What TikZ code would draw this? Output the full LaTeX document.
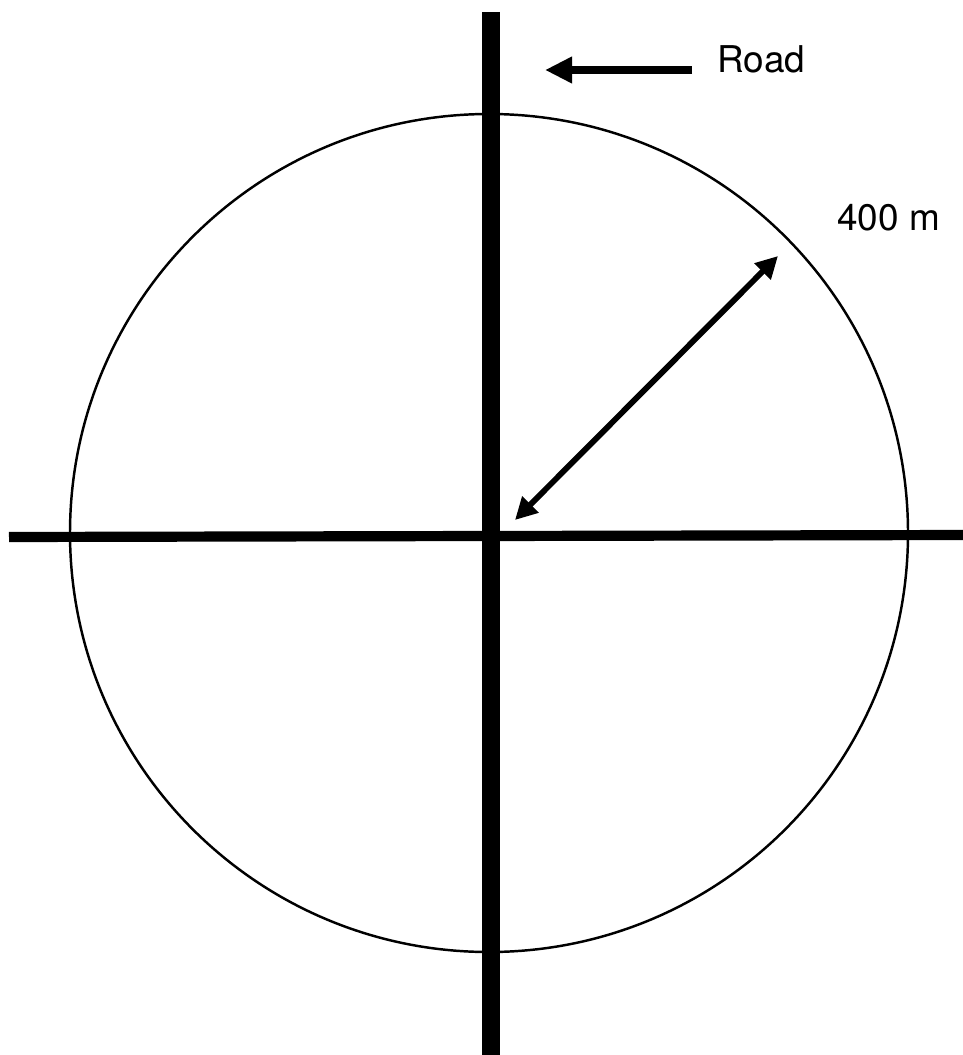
\documentclass[tikz,border=0pt]{standalone}
\usepackage{fontspec}
\setmainfont{TeX Gyre Heros}
\usetikzlibrary{arrows.meta}

\begin{document}
\begin{tikzpicture}[x=0.2mm,y=-0.2mm]
\useasboundingbox (0,0) rectangle (963,1055);
\tikzset{lbl/.style={inner sep=0pt,font=\fontsize{21}{25}\selectfont}}
% site circle
\node[draw,circle,line width=1.4pt,minimum size=838*0.2mm,inner sep=0pt] (ring) at (489,533) {};
% roads
\coordinate (ntop) at (491,12);
\coordinate (nbot) at (491,1055);
\coordinate (wend) at (9,537);
\coordinate (eend) at (963,535);
\draw[line width=10.2pt] (ntop) -- (nbot);
\draw[line width=5.8pt] (wend) -- (eend);
% labels
\node[lbl,anchor=base west] (road) at (717,73) {Road};
\node[lbl,anchor=base west] (dist) at (837,230) {400 m};
\coordinate (rtail) at (692,70);
\coordinate (rtip) at (545,70);
\draw[-{Triangle[length=27*0.2mm,width=25*0.2mm]},line width=5pt] (rtail) -- (rtip);
% radius arrow
\coordinate (rin) at (515,520);
\coordinate (rout) at (778,256);
\draw[{Triangle[length=22*0.2mm,width=22*0.2mm]}-{Triangle[length=22*0.2mm,width=22*0.2mm]},line width=3.3pt] (rin) -- (rout);
\end{tikzpicture}
\end{document}
